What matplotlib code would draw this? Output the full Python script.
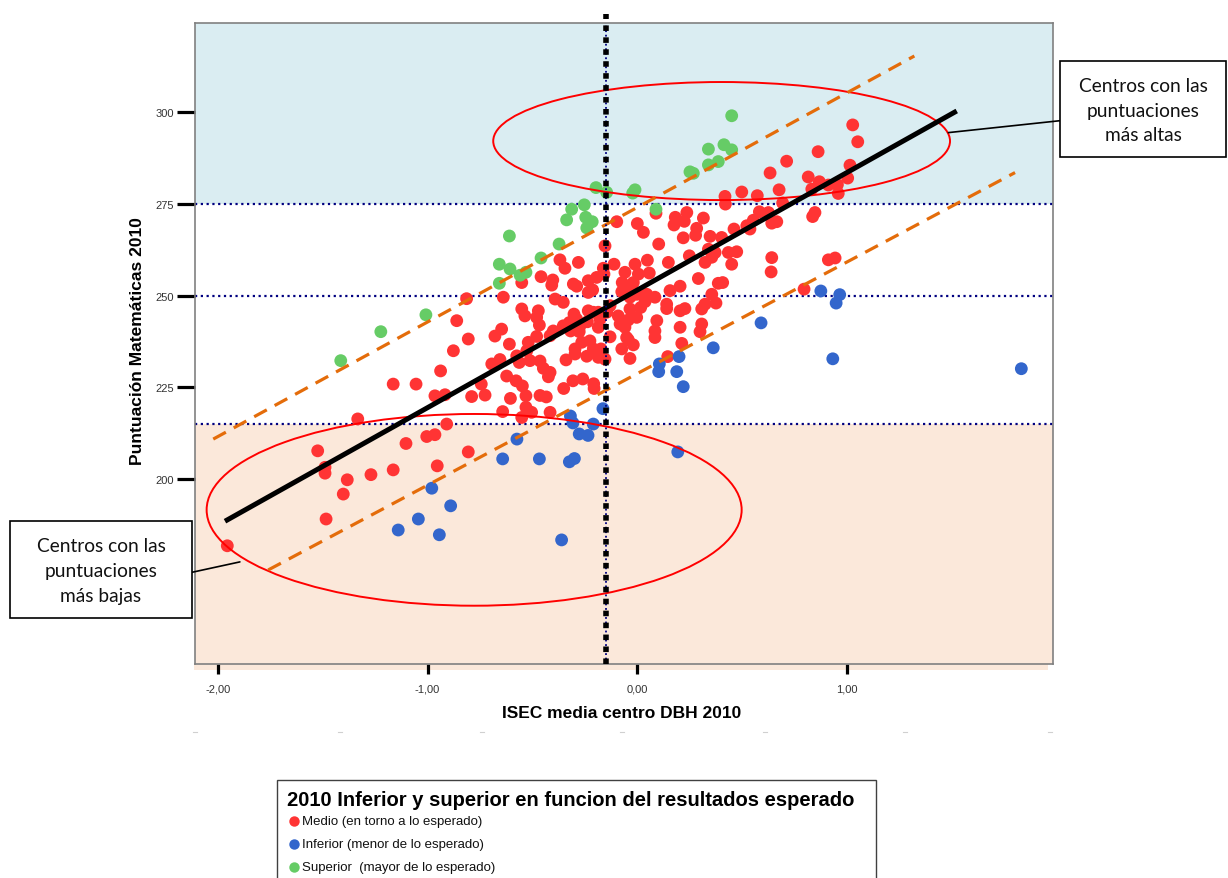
import matplotlib
matplotlib.use("Agg")
import matplotlib.pyplot as plt
from matplotlib.patches import Ellipse, Rectangle
from matplotlib.lines import Line2D

# ---------------------------------------------------------------------------
# Data: ISEC (socio-economic index, school mean) vs. maths score 2010
# ---------------------------------------------------------------------------
medio_isec = [
    1.027, 1.051, 0.862, 0.712, 0.633, 1.014, 0.815, 0.868, 1.003, 0.954,
    0.911, 0.958, 0.832, 0.676, 0.498, 0.572, 0.418, 0.420, 0.693, 0.847,
    0.836, 0.582, 0.625, 0.553, 0.641, 0.665, 0.522, 0.537, 0.461, 0.402,
    0.347, 0.283, 0.278, 0.219, 0.315, 0.236, 0.181, 0.175, 0.224, 0.089,
    0.000, 0.029, -0.098, 0.102, 0.248, 0.339, 0.371, 0.434, 0.474, 0.450,
    0.641, 0.638, 0.911, 0.943, 0.795, 0.148, 0.048, -0.011, -0.111, -0.059,
    0.005, 0.057, -0.019, -0.043, -0.074, 0.291, 0.204, 0.156, 0.386, 0.407,
    0.323, 0.355, -0.154, -0.159, 0.355, -0.369, -0.345, -0.281, -0.459, -0.403,
    -0.408, -0.305, -0.289, -0.234, -0.194, -0.213, -0.551, -0.072, -0.003, 0.045,
    -0.639, -0.392, -0.353, -0.551, -0.536, -0.472, -0.480, -0.467, -0.647, -0.302,
    -0.289, -0.234, -0.210, -0.130, -0.178, -0.091, -0.003, -0.035, 0.016, 0.037,
    -0.353, -0.814, -0.234, -0.162, -0.861, -0.806, -0.877, -0.938, -1.164, -1.055,
    -0.965, -0.917, -0.790, -0.726, -0.744, -0.694, -0.679, -0.610, -0.520, -0.480,
    -0.416, -0.527, -0.575, -0.563, -0.512, -0.464, -0.448, -0.416, -0.623, -0.655,
    -0.578, -0.548, -0.605, -0.531, -0.464, -0.434, -0.351, -0.307, -0.260, -0.208,
    -0.340, -0.297, -0.265, -0.226, -0.210, -0.241, -0.186, -0.318, -0.273, -0.186,
    -0.082, -0.051, -0.074, -0.401, -0.531, -0.504, -0.416, -0.642, -0.551, -0.909,
    -1.004, -0.965, -0.238, -0.324, -0.277, -0.186, -0.173, -0.297, -0.424, -0.206,
    -1.103, -0.806, -0.954, -1.333, -1.524, -1.489, -1.489, -1.383, -1.270, -1.164,
    -1.402, -1.484, -1.955, -0.035, 0.084, 0.140, 0.140, 0.204, 0.227, 0.323,
    0.307, 0.375, -0.146, -0.043, -0.059, 0.093, 0.084, 0.084, 0.204, 0.307,
    0.299, -0.130, -0.043, -0.019, 0.212, -0.035, 0.145, -0.154,
]
medio_mat = [
    296.6, 292.0, 289.3, 286.7, 283.5, 285.6, 282.4, 281.1, 282.1, 280.3,
    280.2, 277.9, 279.1, 278.9, 278.3, 277.3, 277.1, 275.0, 275.3, 272.7,
    271.6, 272.9, 272.7, 270.6, 269.8, 270.2, 269.1, 268.2, 268.2, 265.9,
    266.2, 268.4, 266.5, 265.8, 271.2, 272.7, 271.4, 269.3, 270.3, 272.5,
    269.7, 267.3, 270.2, 264.1, 260.9, 262.7, 261.8, 261.8, 262.0, 258.6,
    260.4, 256.5, 259.8, 260.3, 251.8, 259.1, 259.7, 258.6, 258.6, 256.4,
    255.9, 256.2, 253.6, 251.8, 251.1, 254.7, 252.6, 251.4, 253.4, 253.6,
    259.1, 260.5, 263.6, 255.9, 250.4, 259.8, 257.5, 259.1, 255.2, 254.3,
    252.9, 253.2, 252.6, 254.1, 255.0, 251.6, 253.6, 253.6, 250.4, 250.4,
    249.6, 249.1, 248.2, 246.4, 244.5, 245.9, 244.1, 242.0, 240.9, 245.0,
    243.6, 245.9, 245.5, 247.3, 243.6, 244.5, 244.1, 246.4, 246.8, 248.4,
    241.8, 249.2, 250.9, 257.5, 243.2, 238.2, 235.0, 229.5, 225.9, 225.9,
    222.7, 223.0, 222.5, 222.9, 225.9, 231.4, 239.0, 236.8, 237.3, 238.9,
    239.1, 235.0, 233.6, 231.8, 232.3, 232.2, 230.2, 229.1, 228.1, 232.6,
    226.8, 225.4, 222.0, 222.7, 222.8, 222.4, 224.7, 226.8, 227.3, 226.0,
    232.5, 235.5, 237.3, 237.7, 235.5, 233.5, 233.2, 240.4, 241.8, 245.5,
    242.3, 238.6, 235.5, 240.4, 219.6, 218.2, 218.2, 218.4, 216.8, 215.0,
    211.6, 212.1, 242.9, 242.7, 240.2, 241.4, 235.5, 234.1, 227.9, 224.7,
    209.7, 207.4, 203.6, 216.4, 207.7, 203.2, 201.6, 199.8, 201.2, 202.5,
    195.9, 189.1, 181.8, 249.6, 249.6, 247.7, 246.5, 245.9, 246.5, 247.7,
    246.4, 248.0, 245.5, 243.4, 241.4, 243.2, 240.4, 238.6, 241.4, 242.3,
    240.2, 238.8, 238.0, 236.6, 237.0, 232.9, 233.4, 232.7,
]

inferior_isec = [
    0.875, 0.965, 0.948, 0.590, 0.362, 0.199, 0.105, 0.102, 0.188, 0.219,
    0.932, 1.831, -0.164, 0.193, -0.319, -0.307, -0.277, -0.235, -0.210, -0.574,
    -0.642, -0.467, -0.324, -0.300, -0.980, -0.890, -1.044, -1.140, -0.944, -0.361,
]
inferior_mat = [
    251.3, 250.3, 248.0, 242.6, 235.8, 233.4, 231.4, 229.3, 229.3, 225.2,
    232.8, 230.1, 219.2, 207.4, 217.2, 215.3, 212.3, 211.9, 215.0, 210.9,
    205.5, 205.5, 204.7, 205.6, 197.5, 192.7, 189.1, 186.1, 184.8, 183.4,
]

superior_isec = [
    0.450, 0.339, 0.413, 0.450, 0.339, 0.386, 0.251, 0.267, -0.011, -0.022,
    -0.146, 0.089, -0.197, -0.313, -0.253, -0.337, -0.246, -0.215, -0.241, -0.610,
    -0.373, -0.459, -0.658, -0.607, -0.559, -0.531, -0.658, -1.008, -1.223, -1.414,
]
superior_mat = [
    299.1, 290.0, 291.2, 289.8, 285.7, 286.6, 283.8, 283.4, 278.9, 278.0,
    278.2, 273.6, 279.5, 273.6, 274.8, 270.7, 271.4, 270.2, 268.5, 266.3,
    264.1, 260.3, 258.6, 257.3, 255.6, 256.4, 253.4, 244.8, 240.2, 232.3,
]

group_labels = [
    "Medio (en torno a lo esperado)",
    "Inferior (menor de lo esperado)",
    "Superior  (mayor de lo esperado)",
]
group_colors = ["#FF3434", "#3366CC", "#66CC66"]

x_ticks = [-2.0, -1.0, 0.0, 1.0]
x_tick_labels = ["-2,00", "-1,00", "0,00", "1,00"]
y_ticks = [200, 225, 250, 275, 300]

# Reference levels
score_high = 275      # upper band threshold
score_mean = 250      # mean score
score_low = 215       # lower band threshold
isec_mean = -0.15     # mean ISEC

# Regression line and +/- band (end points)
fit_isec = [-1.966, 1.523]
fit_mat = [188.5, 300.4]
band_hi_isec = [-2.022, 1.321]
band_hi_mat = [210.9, 315.4]
band_lo_isec = [-1.760, 1.801]
band_lo_mat = [175.2, 283.6]

# Highlighted groups (centre x, centre y, width, height)
top_group = (0.402, 292.2, 2.178, 32.2)
bottom_group = (-0.778, 191.6, 2.551, 52.3)

# ---------------------------------------------------------------------------
W, H = 1228, 879
fig = plt.figure(figsize=(W / 100, H / 100), dpi=100)


def fx(px):
    return px / W


def fy(py):
    return 1 - py / H


ax = fig.add_axes([fx(195), fy(665), fx(1053) - fx(195), fy(24) - fy(665)])
x_min, x_max = -2.109, 1.982
y_min, y_max = 149.55, 324.4
ax.set_xlim(x_min, x_max)
ax.set_ylim(y_min, y_max)

# Background bands
ax.axhspan(score_high, y_max, facecolor="#DAEDF2", edgecolor="none", zorder=0)
ax.axhspan(y_min, score_low, facecolor="#FBE8DA", edgecolor="none", zorder=0)
fig.add_artist(Rectangle((fx(194), fy(671)), fx(1048) - fx(194), fy(665) - fy(671),
                         facecolor="#FBE8DA", edgecolor="none", zorder=0))

for lvl in (score_high, score_mean, score_low):
    ax.axhline(lvl, color="#000080", lw=1.6, linestyle=(0, (1, 1.6)), zorder=1)

# Points
for xs, ys, col in ((medio_isec, medio_mat, group_colors[0]),
                    (inferior_isec, inferior_mat, group_colors[1]),
                    (superior_isec, superior_mat, group_colors[2])):
    ax.scatter(xs, ys, s=85, color=col, edgecolors="none", zorder=2)

# Highlight ellipses
for cx, cy, w, h in (top_group, bottom_group):
    ax.add_patch(Ellipse((cx, cy), w, h, fill=False, edgecolor="#FF0000",
                         lw=1.4, zorder=3))

# Band and regression line
ax.plot(band_hi_isec, band_hi_mat, color="#E46C0A", lw=2.3,
        linestyle=(0, (4.5, 2.8)), zorder=4)
ax.plot(band_lo_isec, band_lo_mat, color="#E46C0A", lw=2.3,
        linestyle=(0, (4.5, 2.8)), zorder=4)
ax.plot(fit_isec, fit_mat, color="black", lw=3.6, zorder=4,
        solid_capstyle="butt")

# Mean ISEC vertical marker: thin navy dots under heavy black squares
ax.plot([isec_mean, isec_mean], [y_min, y_max], color="#000080", lw=1.3,
        linestyle=(0, (1, 1.5)), zorder=5)
ax.plot([isec_mean, isec_mean], [y_min, y_max + 2.5], color="black", lw=4.0,
        linestyle=(0, (1.0, 1.15)), zorder=5.1, clip_on=False)

# Axes styling
for sp in ax.spines.values():
    sp.set_color("#808080")
    sp.set_linewidth(1.2)
ax.set_xticks(x_ticks)
ax.set_xticklabels(x_tick_labels)
ax.set_yticks(y_ticks)
ax.set_yticklabels([str(v) for v in y_ticks])
ax.tick_params(axis="y", length=13, width=2.3, color="black", labelsize=8,
               labelcolor="#333333", pad=2)
ax.tick_params(axis="x", length=7, width=2.3, color="black", labelsize=8,
               labelcolor="#333333", pad=7)
for lab in ax.get_xticklabels() + ax.get_yticklabels():
    lab.set_family("Liberation Sans")

fig.text(fx(137), fy(341), "Puntuación Matemáticas 2010", rotation=90,
         ha="center", va="center", fontsize=12.5, fontweight="bold",
         family="Liberation Sans")
fig.text(fx(622), fy(714), "ISEC media centro DBH 2010", ha="center",
         va="center", fontsize=12.5, fontweight="bold", family="Liberation Sans")

# Faint separator marks under the axis title
for px in (195, 340, 482, 622, 765, 905, 1050):
    fig.add_artist(Line2D([fx(px - 2), fx(px + 2)], [fy(733), fy(733)],
                          color="#D0D0D0", lw=0.8))


# Callout boxes
def callout(x0, y0, x1, y1, text):
    fig.add_artist(Rectangle((fx(x0), fy(y1)), fx(x1) - fx(x0), fy(y0) - fy(y1),
                             facecolor="white", edgecolor="black", lw=1.2,
                             zorder=6))
    fig.text(fx((x0 + x1) / 2), fy((y0 + y1) / 2 + 1), text, ha="center",
             va="center", fontsize=13.8, family=["Lato", "DejaVu Sans"],
             linespacing=1.55, color="#111111", zorder=7)


callout(1060, 62, 1226, 158, "Centros con las\npuntuaciones\nmás altas")
callout(10, 522, 192, 619, "Centros con las\npuntuaciones\nmás bajas")

ax.annotate("", xy=(1.483, 294.5), xycoords="data",
            xytext=(fx(1060), fy(121.7)), textcoords="figure fraction",
            arrowprops=dict(arrowstyle="-", color="black", lw=1.2,
                            shrinkA=0, shrinkB=0),
            annotation_clip=False, zorder=6)
ax.annotate("", xy=(-1.895, 177.4), xycoords="data",
            xytext=(fx(192), fy(573.3)), textcoords="figure fraction",
            arrowprops=dict(arrowstyle="-", color="black", lw=1.2,
                            shrinkA=0, shrinkB=0),
            annotation_clip=False, zorder=6)

# Legend panel
fig.add_artist(Rectangle((fx(277), fy(885)), fx(876) - fx(277), fy(781) - fy(885),
                         facecolor="white", edgecolor="#404040", lw=1.0))
fig.text(fx(287), fy(801), "2010 Inferior y superior en funcion del resultados esperado",
         ha="left", va="center", fontsize=14.5, fontweight="bold",
         family="Liberation Sans", color="black")
for i, (lab, col) in enumerate(zip(group_labels, group_colors)):
    py = 822 + i * 23
    fig.add_artist(Line2D([fx(294)], [fy(py)], marker="o", markersize=7.5,
                          color=col, markeredgecolor="none", linestyle="none"))
    fig.text(fx(302), fy(py), lab, ha="left", va="center", fontsize=9.5,
             family="Liberation Sans", color="#111111")

fig.savefig("out.png", dpi=100, facecolor="white")
